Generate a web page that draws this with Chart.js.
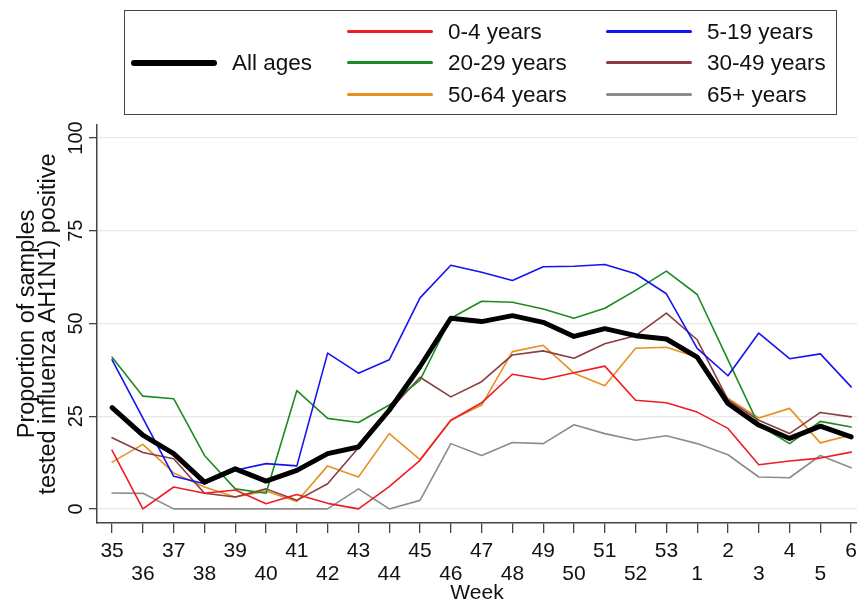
<!DOCTYPE html>
<html>
<head>
<meta charset="utf-8">
<script src="https://cdn.jsdelivr.net/npm/chart.js@4/dist/chart.umd.min.js"></script>
<style>
  body { margin: 0; background: #fff; font-family: "Liberation Sans", Arial, sans-serif; }
  #wrap { position: relative; width: 857px; height: 603px; }
  #legend { position: absolute; left: 124px; top: 10px; width: 713px; height: 105px;
            border: 1.5px solid #444; box-sizing: border-box; }
  .item { position: absolute; display: flex; align-items: center; font-size: 22.5px; color: #111;
          white-space: nowrap; transform: translateY(-50%); }
  .sw { display: inline-block; width: 86px; margin-right: 15px; border-radius: 3px; }
</style>
</head>
<body>
<div id="wrap">
  <canvas id="chart" width="857" height="603"></canvas>
  <div id="legend"></div>
</div>
<script>
// Недели сезона (ось X)
const weeks = ['35','36','37','38','39','40','41','42','43','44','45','46','47','48','49','50',
               '51','52','53','1','2','3','4','5','6'];

// Доля положительных проб, %
const allAges   = [27.3,19.9,14.9,7.2,10.8,7.5,10.4,14.9,16.7,26.6,38.4,51.4,50.5,52.1,50.3,46.5,
                   48.6,46.7,45.8,40.9,28.4,22.6,19.0,22.3,19.4];
const age0to4   = [15.8,0,5.9,4.2,5.1,1.4,3.9,1.5,0,6.0,13.1,23.9,28.6,36.3,34.9,36.7,
                   38.5,29.3,28.6,26.1,21.7,11.9,12.9,13.7,15.3];
const age5to19  = [40.2,24.5,8.8,6.8,10.4,12.2,11.6,42.0,36.6,40.2,56.9,65.7,63.8,61.6,65.3,65.4,
                   65.9,63.4,58.0,43.3,35.9,47.4,40.5,41.8,32.9];
const age20to29 = [40.9,30.4,29.7,14.4,5.4,4.2,31.9,24.4,23.3,28.0,34.7,51.4,56.0,55.7,53.9,51.4,
                   54.1,58.9,64.1,57.8,40.2,22.6,17.6,23.6,22.1];
const age30to49 = [19.2,15.2,13.5,4.2,3.2,5.4,2.3,6.8,16.5,26.5,35.5,30.2,34.3,41.5,42.6,40.6,
                   44.5,46.7,52.8,45.6,29.4,23.9,20.3,26.0,24.8];
const age50to64 = [12.6,17.4,9.7,5.9,3.2,4.8,2.0,11.6,8.6,20.3,13.3,23.9,28.0,42.4,44.1,36.6,
                   33.2,43.3,43.6,40.9,29.8,24.5,27.1,17.8,19.9];
const age65plus = [4.3,4.2,0,0,0,0,0,0,5.4,0,2.3,17.6,14.4,17.9,17.6,22.7,
                   20.3,18.5,19.7,17.6,14.6,8.6,8.4,14.4,11.1];

const yTicks = [0, 25, 50, 75, 100];

const toXY = arr => arr.map((v, i) => ({ x: i, y: v }));

const series = [
  { label: 'All ages',    data: allAges,   color: '#000000', width: 5 },
  { label: '0-4 years',   data: age0to4,   color: '#ee1c24', width: 1.6 },
  { label: '5-19 years',  data: age5to19,  color: '#1414f0', width: 1.6 },
  { label: '20-29 years', data: age20to29, color: '#1e8a22', width: 1.6 },
  { label: '30-49 years', data: age30to49, color: '#8b3c40', width: 1.6 },
  { label: '50-64 years', data: age50to64, color: '#e8901e', width: 1.6 },
  { label: '65+ years',   data: age65plus, color: '#8c8c8c', width: 1.6 }
];

const font = 'Liberation Sans, Arial, sans-serif';

const chart = new Chart(document.getElementById('chart'), {
  type: 'line',
  data: {
    datasets: series.map(s => ({
      label: s.label,
      data: toXY(s.data),
      borderColor: s.color,
      backgroundColor: s.color,
      borderWidth: s.width,
      pointRadius: 0,
      tension: 0,
      borderJoinStyle: 'round',
      borderCapStyle: 'round'
    }))
  },
  options: {
    responsive: false,
    animation: false,
    devicePixelRatio: 1,
    layout: { padding: { top: 125, left: 0, right: 0, bottom: 0 } },
    plugins: { legend: { display: false }, tooltip: { enabled: false } },
    scales: {
      x: {
        type: 'linear',
        min: -0.49,
        max: 24.19,
        afterBuildTicks: s => { s.ticks = weeks.map((w, i) => ({ value: i })); },
        afterFit: s => { s.height = 80; s.paddingLeft = 0; s.paddingRight = 0; },
        ticks: {
          autoSkip: false,
          maxRotation: 0,
          padding: 7,
          color: '#111',
          font: { family: font, size: 21, lineHeight: 1.1 },
          callback: v => (v % 2 === 0 ? [weeks[v], ''] : ['', weeks[v]])
        },
        grid: { drawOnChartArea: false, color: '#444', tickLength: 10, lineWidth: 1.3 },
        border: { color: '#444', width: 1.5 },
        title: { display: true, text: 'Week', color: '#111', padding: { top: 0, bottom: -2 },
                 font: { family: font, size: 21, lineHeight: 1.1 } }
      },
      y: {
        min: -3.8,
        max: 103.5,
        afterBuildTicks: s => { s.ticks = yTicks.map(v => ({ value: v })); },
        afterFit: s => { s.width = 97; s.paddingTop = 0; s.paddingBottom = 0; },
        ticks: {
          minRotation: 90,
          maxRotation: 90,
          crossAlign: 'center',
          padding: -4,
          color: '#111',
          font: { family: font, size: 20 }
        },
        grid: { color: '#e8e8e8', tickColor: '#444', tickLength: 8, lineWidth: 1.3 },
        border: { color: '#444', width: 1.5 },
        title: {
          display: true,
          text: ['Proportion of samples', 'tested influenza AH1N1) positive'],
          color: '#111',
          padding: { top: 16.5, bottom: 0 },
          font: { family: font, size: 23.5, lineHeight: 0.9 }
        }
      }
    }
  }
});

// Легенда: слева "All ages", справа две колонки по три строки
const slots = [
  { left: 6,   top: 51.5 },
  { left: 222, top: 20.5 }, { left: 481, top: 20.5 },
  { left: 222, top: 51.5 }, { left: 481, top: 51.5 },
  { left: 222, top: 83.5 }, { left: 481, top: 83.5 }
];
const legend = document.getElementById('legend');
chart.data.datasets.forEach((ds, i) => {
  const el = document.createElement('div');
  el.className = 'item';
  el.style.left = slots[i].left + 'px';
  el.style.top = slots[i].top + 'px';
  const sw = document.createElement('span');
  sw.className = 'sw';
  sw.style.height = (ds.borderWidth > 3 ? 6 : 2.5) + 'px';
  sw.style.background = ds.borderColor;
  el.appendChild(sw);
  el.appendChild(document.createTextNode(ds.label));
  legend.appendChild(el);
});
</script>
</body>
</html>
